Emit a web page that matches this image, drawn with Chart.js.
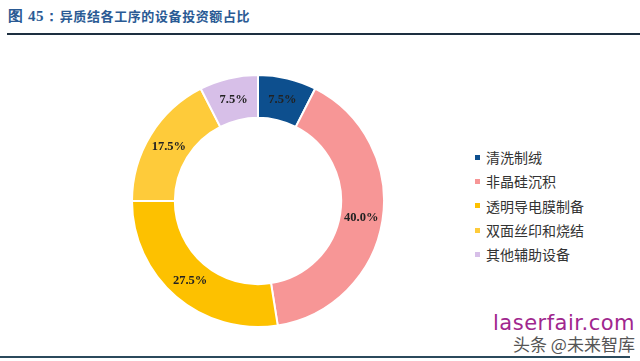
<!DOCTYPE html>
<html>
<head>
<meta charset="utf-8">
<script src="https://cdn.jsdelivr.net/npm/chart.js@4"></script>
<style>
  html, body { margin: 0; padding: 0; background: #fff; }
  body { width: 640px; height: 361px; position: relative; overflow: hidden; font-family: "Noto Sans CJK SC", sans-serif; }
  #title { position: absolute; left: 8px; top: 6px; font-size: 13px; font-weight: bold; color: #2a5a94; letter-spacing: 0.6px; }
  #title .num { font-family: "Liberation Serif", serif; font-size: 15px; }
  #topline { position: absolute; left: 7px; right: 0; top: 33px; height: 2px; background: #1d2f40; }
  #botline { position: absolute; left: 0; width: 630px; top: 356px; height: 2px; background: #2b4a5c; }
  #chartBox { position: absolute; left: 129px; top: 72px; width: 258px; height: 258px; }
  #legend { position: absolute; left: 475px; top: 146px; font-size: 14px; color: #333; }
  #legend div { height: 24.3px; line-height: 22px; white-space: nowrap; }
  #legend span.sw { display: inline-block; width: 5px; height: 5px; margin-right: 6px; vertical-align: middle; position: relative; top: -2px; }
  #wm1 { position: absolute; left: 493px; top: 311px; font-family: "DejaVu Sans", sans-serif; font-size: 21px; color: #a0268e; letter-spacing: 0.5px; }
  #wm2 { position: absolute; left: 513px; top: 331px; font-size: 17px; color: #555; }
</style>
</head>
<body>
<div id="title"><span class="num">图 45：</span>异质结各工序的设备投资额占比</div>
<div id="topline"></div>
<div id="chartBox"><canvas id="pie"></canvas></div>
<div id="legend"></div>
<div id="wm1">laserfair.com</div>
<div id="wm2">头条 @未来智库</div>
<div id="botline"></div>
<script>
// categories and shares (%)
const categories = ["清洗制绒", "非晶硅沉积", "透明导电膜制备", "双面丝印和烧结", "其他辅助设备"];
const shares = [7.5, 40.0, 27.5, 17.5, 7.5];
const colors = ["#0d4f8e", "#f79696", "#fdc100", "#fecb3a", "#d7bfe8"];

// legend
const legendBox = document.getElementById("legend");
categories.forEach((name, i) => {
  const row = document.createElement("div");
  row.innerHTML = `<span class="sw" style="background:${colors[i]}"></span>${name}`;
  legendBox.appendChild(row);
});

// draw % labels in the middle of each ring slice
const sliceLabels = {
  id: "sliceLabels",
  afterDatasetsDraw(chart) {
    const ctx = chart.ctx;
    const meta = chart.getDatasetMeta(0);
    ctx.save();
    ctx.font = "bold 12.5px 'Liberation Serif', serif";
    ctx.fillStyle = "#222";
    ctx.textAlign = "center";
    ctx.textBaseline = "middle";
    meta.data.forEach((arc, i) => {
      const p = arc.tooltipPosition();
      ctx.fillText(shares[i].toFixed(1) + "%", p.x, p.y);
    });
    ctx.restore();
  }
};

new Chart(document.getElementById("pie"), {
  type: "doughnut",
  data: {
    labels: categories,
    datasets: [{
      data: shares,
      backgroundColor: colors,
      borderColor: "#fff",
      borderWidth: 2
    }]
  },
  options: {
    responsive: true,
    maintainAspectRatio: false,
    animation: false,
    cutout: "66%",
    layout: { padding: 2 },
    plugins: {
      legend: { display: false },
      tooltip: { enabled: false }
    }
  },
  plugins: [sliceLabels]
});
</script>
</body>
</html>
